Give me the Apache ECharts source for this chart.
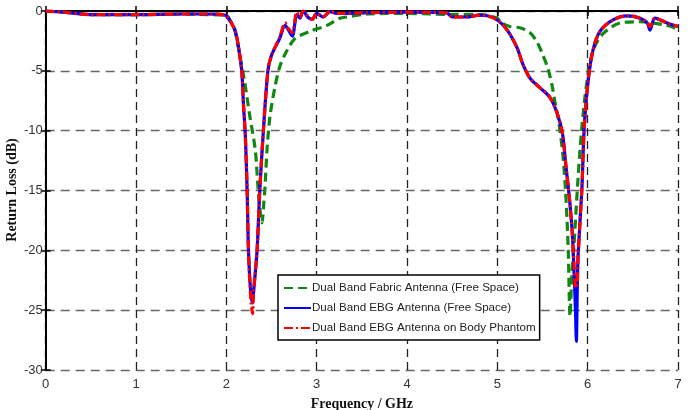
<!DOCTYPE html>
<html><head><meta charset="utf-8">
<script src="https://cdn.jsdelivr.net/npm/echarts@6/dist/echarts.min.js"></script>
<style>html,body{margin:0;padding:0;background:#fff}#c{width:688px;height:410px}</style>
</head><body><div id="c"></div>
<script>
const xTicks = [0,1,2,3,4,5,6,7];
const yTicks = [-30,-25,-20,-15,-10,-5,0];
const seriesNames = ['Dual Band Fabric Antenna (Free Space)','Dual Band EBG Antenna (Free Space)','Dual Band EBG Antenna on Body Phantom'];
const yAxisTitle = 'Return Loss (dB)';
const xAxisTitle = 'Frequency / GHz';

const fabricFreq = [0,0.2,0.5,1.0,1.5,1.8,2.0,2.05,2.1,2.15,2.2,2.26,2.32,2.35,2.38,2.395,2.41,2.428,2.45,2.483,2.539,2.594,2.671,2.76,2.926,3.114,3.258,3.335,3.557,4.0,4.5,4.8,5.0,5.03,5.14,5.25,5.36,5.44,5.505,5.56,5.605,5.638,5.67,5.72,5.75,5.77,5.785,5.805,5.825,5.845,5.89,5.93,5.99,6.06,6.17,6.36,6.58,6.88,7.0];
const fabricRL   = [0,-0.1,-0.3,-0.3,-0.25,-0.3,-0.4,-0.9,-1.8,-3.8,-5.8,-8.8,-11.6,-14.7,-17.2,-17.7,-16.5,-14.7,-11.6,-8.8,-6.3,-4.6,-3.3,-2.3,-1.7,-1.2,-0.6,-0.5,-0.25,-0.2,-0.3,-0.3,-0.6,-0.9,-1.3,-1.4,-1.8,-2.6,-3.7,-4.8,-6.2,-7.6,-8.8,-11.6,-14.4,-17.2,-20,-25.5,-22,-20,-14.4,-10.2,-6,-3.3,-1.9,-1.0,-0.9,-1.2,-1.5];

const ebgFreq = [0,0.2,0.5,1.0,1.5,1.8,1.99,2.04,2.07,2.1,2.13,2.17,2.19,2.21,2.23,2.245,2.27,2.29,2.3,2.34,2.37,2.41,2.46,2.5,2.59,2.65,2.68,2.73,2.78,2.815,2.85,2.9,2.95,3.0,3.07,3.15,3.22,3.5,4.0,4.44,4.5,4.66,4.8,4.89,5.0,5.11,5.22,5.28,5.36,5.47,5.58,5.66,5.72,5.76,5.8,5.83,5.85,5.865,5.875,5.885,5.895,5.937,5.96,6.003,6.058,6.136,6.28,6.435,6.58,6.66,6.69,6.745,6.88,7.0];
const ebgRL   = [0,-0.1,-0.3,-0.3,-0.25,-0.25,-0.35,-0.8,-1.2,-1.7,-2.8,-5,-7.9,-10.4,-15,-20,-23.5,-24.4,-23.6,-20,-15,-10,-5,-3.7,-2.3,-1.2,-1.5,-2.1,-0.3,-0.6,0,-0.5,-0.7,-0.2,-0.5,-0.05,-0.2,-0.15,-0.1,-0.15,-0.5,-0.5,-0.35,-0.4,-0.75,-1.6,-3.1,-4.4,-5.6,-6.4,-7.2,-8.5,-10.2,-13,-15.8,-18.6,-22,-25,-27.6,-23.1,-20.3,-14.7,-10,-6,-3.3,-1.7,-0.75,-0.4,-0.6,-1.0,-1.6,-0.6,-1.0,-1.3];

const phantomFreq = [0,0.2,0.5,1.0,1.5,1.8,1.99,2.04,2.07,2.1,2.13,2.17,2.19,2.21,2.23,2.245,2.27,2.29,2.3,2.34,2.37,2.41,2.46,2.5,2.59,2.65,2.68,2.73,2.78,2.815,2.85,2.9,2.95,3.0,3.07,3.15,3.22,3.5,4.0,4.44,4.5,4.66,4.8,4.89,5.0,5.11,5.22,5.28,5.36,5.47,5.58,5.66,5.72,5.76,5.8,5.83,5.85,5.865,5.88,5.895,5.937,5.96,6.003,6.058,6.136,6.28,6.435,6.58,6.66,6.69,6.745,6.88,7.0];
const phantomRL   = [0,-0.1,-0.3,-0.3,-0.25,-0.25,-0.35,-0.8,-1.2,-1.7,-2.8,-5,-7.9,-10.4,-15,-20,-24,-25.3,-23.6,-20,-15,-10,-5,-3.7,-2.2,-1.0,-1.4,-1.8,-0.1,-0.5,0,-0.4,-0.7,-0.2,-0.5,0,-0.2,-0.15,-0.1,-0.15,-0.5,-0.5,-0.35,-0.4,-0.75,-1.6,-3.1,-4.4,-5.6,-6.4,-7.2,-8.5,-10.2,-13,-15.8,-18.6,-21.4,-23.1,-23.1,-20.3,-14.7,-10,-6,-3.3,-1.7,-0.75,-0.4,-0.6,-1.0,-1.3,-0.6,-1.0,-1.3];

const pairs = (xs, ys) => xs.map((x, i) => [x, ys[i]]);

const chart = echarts.init(document.getElementById('c'));
const lab = {fontFamily:'Liberation Sans', fontSize:13, color:'#333'};
chart.setOption({
  animation:false,
  backgroundColor:'#fff',
  grid:{left:45.7, right:10, top:11, bottom:40, containLabel:false, outerBoundsMode:'none'},
  graphic:[{
    type:'text', x:12, y:190, rotation:Math.PI/2,
    style:{text:yAxisTitle, fontFamily:'Liberation Serif', fontWeight:'bold', fontSize:14, fill:'#111', align:'center', verticalAlign:'middle'}
  }],
  legend:{
    orient:'vertical', left:278, top:275,
    backgroundColor:'#fff', borderColor:'#000', borderWidth:1.5, borderRadius:0,
    padding:[7,4,6,5], itemGap:8, itemWidth:27, itemHeight:11,
    itemStyle:{opacity:0},
    textStyle:{fontFamily:'Liberation Sans', fontSize:11.6, color:'#222', padding:[0,0,0,-4]},
    data:seriesNames
  },
  xAxis:[{
    type:'value', min:0, max:7, interval:1, position:'bottom',
    axisLine:{lineStyle:{color:'#000', width:2}},
    axisTick:{inside:true, length:5, lineStyle:{color:'#000', width:1.5}},
    axisLabel:Object.assign({margin:8, formatter:v => xTicks.includes(v) ? String(v) : ''}, lab),
    splitLine:{show:true, lineStyle:{color:'#222', type:[8,5], width:1.3}},
    name:xAxisTitle, nameLocation:'middle', nameGap:27,
    nameTextStyle:{fontFamily:'Liberation Serif', fontWeight:'bold', fontSize:14, color:'#111'}
  },{
    type:'value', min:0, max:7, interval:1, position:'top',
    axisLine:{lineStyle:{color:'#000', width:2}},
    axisTick:{inside:true, length:5, lineStyle:{color:'#000', width:1.5}},
    axisLabel:{show:false}, splitLine:{show:false}
  }],
  yAxis:[{
    type:'value', min:-30, max:0, interval:5, position:'left',
    axisLine:{lineStyle:{color:'#000', width:2}},
    axisTick:{inside:true, length:5, lineStyle:{color:'#000', width:1.5}},
    axisLabel:Object.assign({margin:3, formatter:v => yTicks.includes(v) ? String(v) : ''}, lab),
    splitLine:{show:true, lineStyle:{color:'#666', type:[9,6], width:1.3}}
  },{
    type:'value', min:-30, max:0, interval:5, position:'right',
    axisLine:{lineStyle:{color:'#000', width:2}},
    axisTick:{inside:true, length:5, lineStyle:{color:'#000', width:1.5}},
    axisLabel:{show:false}, splitLine:{show:false}
  }],
  series:[
    {name:seriesNames[0], type:'line', data:pairs(fabricFreq, fabricRL), showSymbol:false, symbol:'none', smooth:0.3,
     lineStyle:{color:'#118811', width:3.2, type:[9,5]}, itemStyle:{color:'#118811'}, z:2},
    {name:seriesNames[1], type:'line', data:pairs(ebgFreq, ebgRL), showSymbol:false, symbol:'none', smooth:0.3,
     lineStyle:{color:'#0000ff', width:3.2}, itemStyle:{color:'#0000ff'}, z:3},
    {name:seriesNames[2], type:'line', data:pairs(phantomFreq, phantomRL), showSymbol:false, symbol:'none', smooth:0.3,
     lineStyle:{color:'#ff0000', width:3.2, type:[9,3,2,3]}, itemStyle:{color:'#ff0000'}, z:4}
  ]
});
</script></body></html>
